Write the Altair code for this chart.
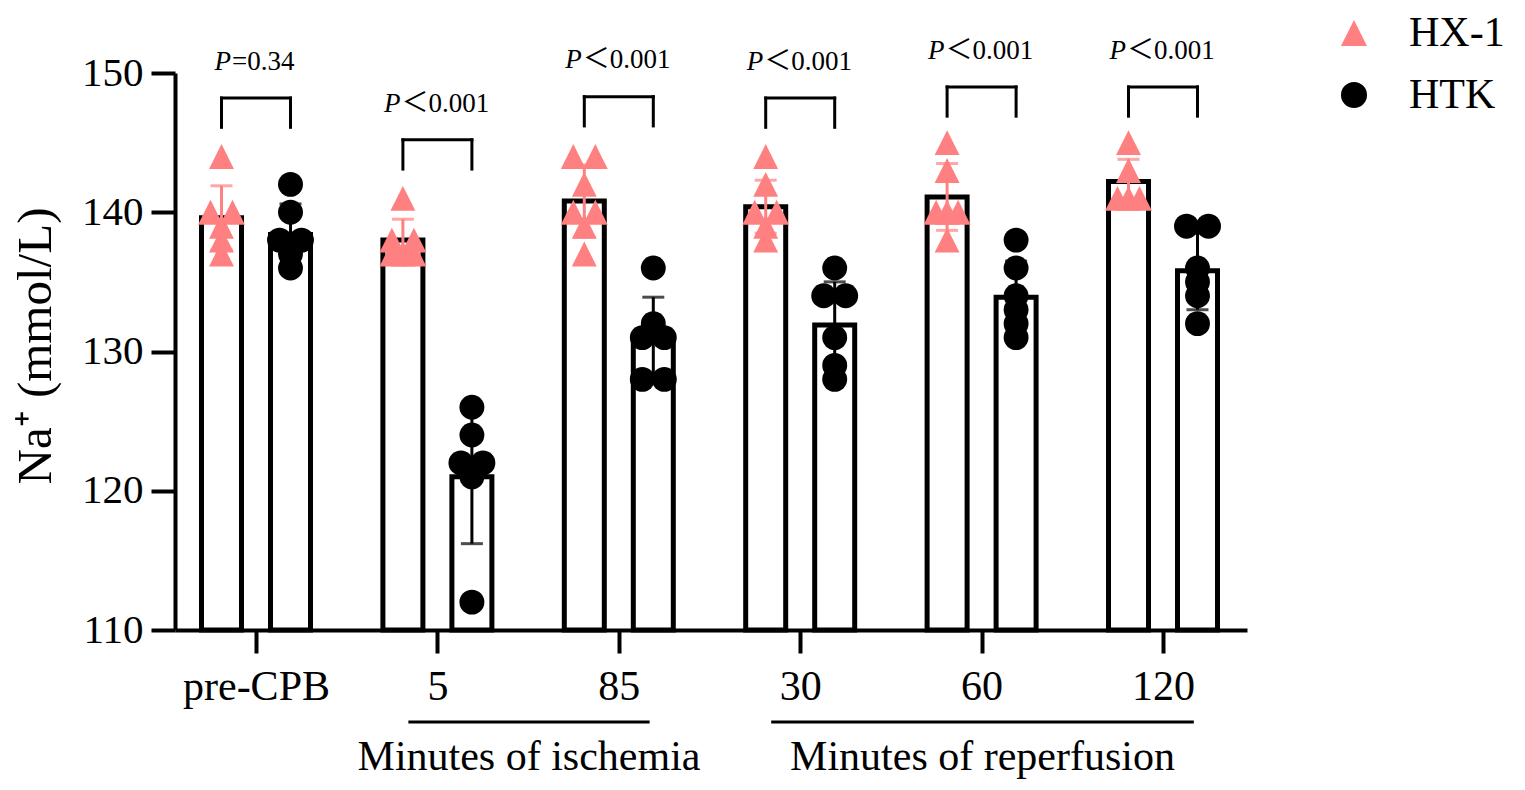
import json
import altair as alt
import pandas as pd

# ---------------- data ----------------
categories = ["pre-CPB", "5", "85", "30", "60", "120"]
groups = ["HX-1", "HTK"]
group_colors = ["#FF8080", "#000000"]

hx1_mean = [139.6, 138.0, 140.8, 140.4, 141.1, 142.2]
hx1_sd = [2.3, 1.5, 2.6, 1.9, 2.4, 1.6]
htk_mean = [138.4, 121.0, 131.0, 131.9, 133.9, 135.8]
htk_sd = [2.2, 4.8, 2.9, 3.1, 2.6, 2.8]

hx1_points = [
    [144, 140, 140, 139, 138, 137],
    [141, 138, 138, 137, 137, 137],
    [144, 144, 142, 140, 140, 139, 137],
    [144, 142, 140, 140, 139, 138],
    [145, 143, 140, 140, 140, 138],
    [145, 143, 141, 141, 141],
]
htk_points = [
    [142, 140, 138, 138, 137, 136],
    [126, 124, 122, 122, 121, 112],
    [136, 132, 131, 131, 128, 128],
    [136, 134, 134, 131, 129, 128],
    [138, 136, 134, 133, 132, 131],
    [139, 139, 136, 135, 134, 132],
]

p_text = ["=0.34", "＜0.001", "＜0.001", "＜0.001", "＜0.001", "＜0.001"]
bracket_top = [148.2, 145.2, 148.3, 148.2, 149.0, 149.0]

period_names = ["Minutes of ischemia", "Minutes of reperfusion"]
period_first = [1, 3]
period_last = [2, 5]

# ---------------- layout constants ----------------
W, H = 1072, 557
STEP = 181.4                       # px per category
X_DOMAIN = [-81 / STEP, -81 / STEP + W / STEP]
GOFF = [-34.5 / STEP, 34.5 / STEP]  # HX-1 left, HTK right
JIT = 11.0                          # px spread for identical values
FONT = "Liberation Serif"

# ---------------- tables ----------------
pts_rows = []
for gi, plist in enumerate([hx1_points, htk_points]):
    for ci, pts in enumerate(plist):
        counts = {}
        for v in pts:
            counts[v] = counts.get(v, 0) + 1
        seen = {}
        for v in pts:
            m = counts[v]
            k = seen.get(v, 0)
            seen[v] = k + 1
            off = 0.0 if m == 1 else (-JIT + 2 * JIT * k / (m - 1))
            pts_rows.append(dict(group=groups[gi], x=ci + GOFF[gi] + off / STEP, y=v))
pts_df = pd.DataFrame(pts_rows)

bar_rows = []
for gi, (means, sds) in enumerate([(hx1_mean, hx1_sd), (htk_mean, htk_sd)]):
    for ci in range(len(categories)):
        bar_rows.append(dict(group=groups[gi], col=group_colors[gi], x=ci + GOFF[gi],
                             mean=means[ci], lo=means[ci] - sds[ci], hi=means[ci] + sds[ci]))
bar_df = pd.DataFrame(bar_rows)

br_rows, leg_rows = [], []
for ci in range(len(categories)):
    x1, x2 = ci + GOFF[0], ci + GOFF[1]
    top = bracket_top[ci]
    kind = "eq" if p_text[ci].startswith("=") else "lt"
    br_rows.append(dict(x1=x1, x2=x2, top=top, txt_y=top + 2.6, ci=ci, rest=p_text[ci], kind=kind, P="P"))
    for xx in (x1, x2):
        leg_rows.append(dict(x=xx, top=top, bot=top - 2.1))
br_df = pd.DataFrame(br_rows)
leg_df = pd.DataFrame(leg_rows)

per_df = pd.DataFrame(dict(name=period_names,
                           xa=[f - 0.16 for f in period_first],
                           xb=[l + 0.17 for l in period_last]))
per_df["xm"] = (per_df["xa"] + per_df["xb"]) / 2

# ---------------- scales / axes ----------------
xscale = alt.Scale(domain=X_DOMAIN, nice=False, zero=False, padding=0)
yscale = alt.Scale(domain=[110, 150], nice=False, zero=False)

label_expr = json.dumps(categories) + "[datum.value]"
xaxis = alt.Axis(values=list(range(len(categories))), labelExpr=label_expr, title=None, grid=False,
                 domainColor="black", domainWidth=4, tickColor="black", tickWidth=4, tickSize=23,
                 labelFont=FONT, labelFontSize=42, labelColor="black", labelPadding=13,
                 labelOverlap=False, labelFlush=False)
yaxis = alt.Axis(values=[110, 120, 130, 140, 150], title="Na⁺ (mmol/L)", grid=False,
                 domainColor="black", domainWidth=4, tickColor="black", tickWidth=4, tickSize=24,
                 labelFont=FONT, labelFontSize=41, labelColor="black", labelPadding=8,
                 titleFont=FONT, titleFontSize=49, titleFontWeight="normal", titleColor="black",
                 titleAngle=-90, titleX=-140, titleY=H / 2 - 6, titleAlign="center", titleBaseline="middle")

X = lambda f: alt.X(f, type="quantitative", scale=xscale, axis=xaxis)
Y = lambda f: alt.Y(f, type="quantitative", scale=yscale, axis=yaxis)

legend = alt.Legend(orient="none", legendX=1158, legendY=-61, title=None,
                    labelFont=FONT, labelFontSize=42, labelColor="black", labelOffset=34,
                    symbolSize=680, symbolOpacity=1, rowPadding=20, padding=0, symbolStrokeWidth=0)

tri = "M0,-1L-1,1L1,1Z"

# ---------------- layers ----------------
bars = alt.Chart(bar_df).mark_bar(width=40, fill="white", stroke="black", strokeWidth=5,
                                  strokeJoin="miter").encode(
    x=X("x"), y=Y("mean"), y2=alt.datum(110))

err = alt.Chart(bar_df).mark_rule(strokeWidth=3).encode(
    x=X("x"), y=Y("lo"), y2="hi", color=alt.Color("col:N", scale=None))
caps_lo = alt.Chart(bar_df).mark_tick(orient="horizontal", size=22, thickness=3).encode(
    x=X("x"), y=Y("lo"), color=alt.Color("col:N", scale=None))
caps_hi = alt.Chart(bar_df).mark_tick(orient="horizontal", size=22, thickness=3).encode(
    x=X("x"), y=Y("hi"), color=alt.Color("col:N", scale=None))

points = alt.Chart(pts_df).mark_point(filled=True, opacity=1, fillOpacity=1, size=620, strokeWidth=0).encode(
    x=X("x"), y=Y("y"),
    color=alt.Color("group:N", scale=alt.Scale(domain=groups, range=group_colors), legend=legend),
    shape=alt.Shape("group:N", scale=alt.Scale(domain=groups, range=[tri, "circle"]), legend=legend),
    opacity=alt.value(1),
)

br_h = alt.Chart(br_df).mark_rule(strokeWidth=3, color="black", strokeCap="square").encode(
    x=X("x1"), x2="x2", y=Y("top"))
br_v = alt.Chart(leg_df).mark_rule(strokeWidth=3, color="black", strokeCap="square").encode(
    x=X("x"), y=Y("bot"), y2="top")

txt_layers = []
for kind, split in (("eq", -25), ("lt", -37)):
    sub = br_df[br_df["kind"] == kind]
    txt_layers.append(alt.Chart(sub).mark_text(font=FONT, fontSize=27, fontStyle="italic", align="right",
                                               baseline="middle", dx=split, color="black").encode(
        x=X("ci"), y=Y("txt_y"), text="P:N"))
    txt_layers.append(alt.Chart(sub).mark_text(font=FONT + ", Noto Sans CJK SC", fontSize=27, align="left",
                                               baseline="middle", dx=split + 1, color="black").encode(
        x=X("ci"), y=Y("txt_y"), text="rest:N"))

per_line = alt.Chart(per_df).mark_rule(strokeWidth=3, color="black").encode(
    x=X("xa"), x2="xb", y=alt.value(649))
per_text = alt.Chart(per_df).mark_text(font=FONT, fontSize=42, baseline="middle", align="center",
                                       color="black").encode(
    x=X("xm"), y=alt.value(684), text="name:N")

chart = alt.layer(bars, err, caps_lo, caps_hi, points, br_h, br_v, *txt_layers, per_line, per_text).properties(
    width=W, height=H,
    autosize=alt.AutoSizeParams(type="none"),
    padding={"left": 167, "top": 65, "right": 268, "bottom": 152},
).configure(font=FONT, background="white").configure_view(stroke=None).configure_legend(symbolOpacity=1)

chart.save("out.html", embed_options={"renderer": "svg", "actions": False})
